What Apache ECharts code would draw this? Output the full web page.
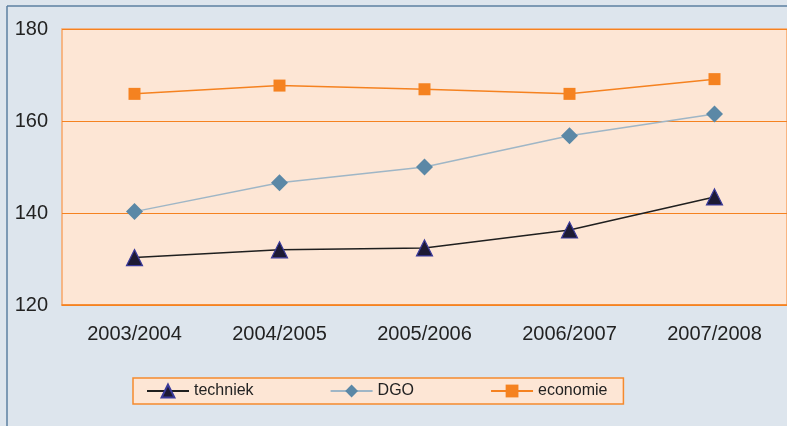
<!DOCTYPE html>
<html>
<head>
<meta charset="utf-8">
<script src="https://cdn.jsdelivr.net/npm/echarts@6/dist/echarts.min.js"></script>
<style>
  html, body { margin: 0; padding: 0; background: #dde5ed; }
  #chart { width: 787px; height: 426px; }
</style>
</head>
<body>
<div id="chart"></div>
<script>
const years = ['2003/2004', '2004/2005', '2005/2006', '2006/2007', '2007/2008']
const techniek = [130.3, 132, 132.4, 136.3, 143.5]
const dgo = [140.3, 146.6, 150, 156.8, 161.5]
const economie = [165.9, 167.7, 166.9, 165.9, 169.1]
const yTicks = [120, 140, 160, 180]

const font = 'Liberation Sans, Arial, sans-serif'
const chart = echarts.init(document.getElementById('chart'))

const option = {
  backgroundColor: '#dde5ed',
  animation: false,
  textStyle: { fontFamily: font },
  graphic: [
    { type: 'line', shape: { x1: 7, y1: 6, x2: 787, y2: 6 }, style: { stroke: '#5b7fa1', lineWidth: 1.5 } },
    { type: 'line', shape: { x1: 7, y1: 6, x2: 7, y2: 426 }, style: { stroke: '#5b7fa1', lineWidth: 1.5 } }
  ],
  grid: {
    left: 62,
    top: 29,
    width: 727,
    height: 276,
    show: true,
    backgroundColor: '#fde6d5',
    borderColor: '#f7a566',
    borderWidth: 1.5
  },
  legend: {
    left: 133,
    top: 378,
    padding: [5, 16, 5, 13],
    itemGap: 76,
    itemWidth: 42,
    itemHeight: 16,
    backgroundColor: '#fde6d5',
    borderColor: '#f58a2e',
    borderWidth: 1.5,
    textStyle: { fontSize: 16, color: '#222', fontFamily: font },
    data: ['techniek', 'DGO', 'economie']
  },
  xAxis: {
    type: 'category',
    data: years,
    boundaryGap: true,
    axisLine: { lineStyle: { color: '#f58220', width: 1.5 } },
    axisTick: { show: false },
    axisLabel: { fontSize: 20, color: '#222', margin: 19 }
  },
  yAxis: {
    type: 'value',
    min: yTicks[0],
    max: yTicks[yTicks.length - 1],
    interval: 20,
    axisLine: { show: false },
    axisTick: { show: false },
    axisLabel: { fontSize: 20, color: '#222', margin: 14 },
    splitLine: { lineStyle: { color: '#f58220', width: 1.2 } }
  },
  series: [
    {
      name: 'techniek',
      type: 'line',
      data: techniek,
      symbol: 'triangle',
      symbolSize: 16,
      lineStyle: { color: '#1f1f1f', width: 1.5 },
      itemStyle: { color: '#1d1a33', borderColor: '#3a3a9a', borderWidth: 1.2 },
      z: 3
    },
    {
      name: 'DGO',
      type: 'line',
      data: dgo,
      symbol: 'diamond',
      symbolSize: 17,
      lineStyle: { color: '#9fb6c6', width: 1.5 },
      itemStyle: { color: '#5b88a6', borderColor: '#5b88a6', borderWidth: 0 },
      z: 3
    },
    {
      name: 'economie',
      type: 'line',
      data: economie,
      symbol: 'rect',
      symbolSize: 12,
      lineStyle: { color: '#f58220', width: 1.5 },
      itemStyle: { color: '#f58220', borderColor: '#f58220', borderWidth: 0 },
      z: 3
    }
  ]
}

chart.setOption(option)
</script>
</body>
</html>
